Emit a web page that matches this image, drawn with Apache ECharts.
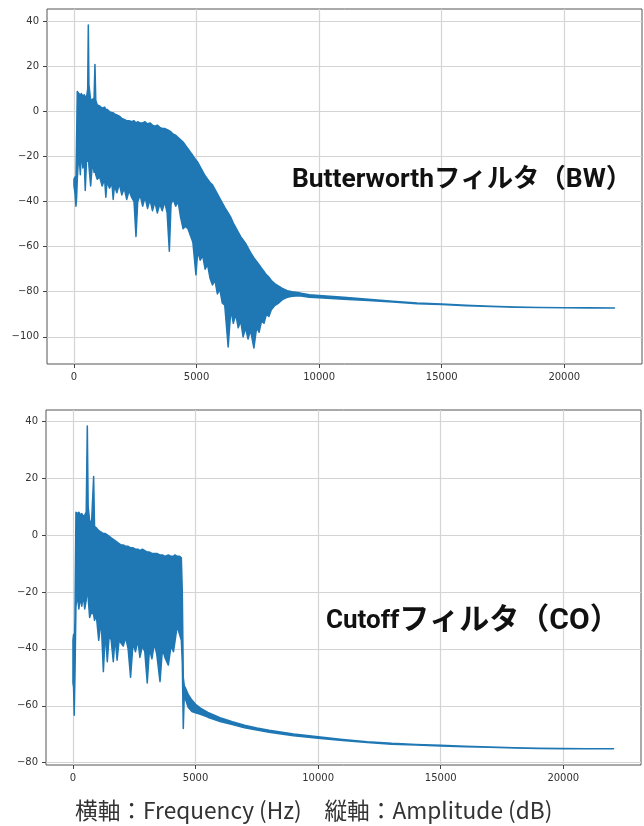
<!DOCTYPE html>
<html>
<head>
<meta charset="utf-8">
<script src="https://cdn.jsdelivr.net/npm/echarts@6/dist/echarts.min.js"></script>
<style>
  html, body { margin: 0; padding: 0; background: #fff; }
  #chart { width: 644px; height: 826px; }
</style>
</head>
<body>
<div id="chart"></div>
<script>
// 目盛り
var xTicks = [0, 5000, 10000, 15000, 20000];
var yTicksBW = [-100, -80, -60, -40, -20, 0, 20, 40];
var yTicksCO = [-80, -60, -40, -20, 0, 20, 40];

// Butterworth: 周波数と上側/下側の包絡 (dB)
var freqBW = [0, 40, 80, 110, 135, 200, 260, 300, 360, 420, 460, 520, 560, 585, 610, 680, 760, 820, 856, 890,
  950, 1050, 1150, 1250, 1300, 1350, 1450, 1550, 1600, 1650, 1750, 1850, 1950, 2050, 2150, 2250, 2350, 2450, 2530, 2600,
  2700, 2800, 2900, 3000, 3100, 3200, 3300, 3400, 3500, 3600, 3700, 3800, 3890, 3960, 4050, 4150, 4250, 4350, 4450, 4550,
  4650, 4750, 4850, 4975, 5050, 5150, 5250, 5350, 5450, 5550, 5650, 5750, 5850, 5950, 6050, 6150, 6290, 6400, 6500, 6600,
  6700, 6800, 6900, 7000, 7100, 7200, 7340, 7450, 7550, 7650, 7750, 7850, 7950, 8050, 8200, 8350, 8500, 8700, 8900, 9200,
  9600, 10000, 11000, 12000, 13000, 14000, 15000, 16000, 17000, 18000, 19000, 20000, 21000, 22050];
var upperBW = [-30, -29, -31, -10, 9, 8, 7.5, 8, 7, 7.5, 6.5, 7, 10, 38.5, 12, 5, 5.5, 6, 21, 5,
  3, 2.5, 1.5, 2, 1, 1, 0, -0.5, -0.5, -1, -1.5, -2, -3, -3.5, -4, -4, -4.5, -4, -5, -4.5,
  -5, -5, -4.5, -5.5, -5, -6, -6.5, -6, -7, -7.5, -7.5, -8, -8.5, -9, -10, -10.5, -11.5, -12.5, -13.5, -15,
  -16.5, -18, -19.5, -21.5, -22.5, -24.5, -26.5, -28.5, -30, -31.5, -32.5, -34.5, -36.5, -38.5, -40.5, -42.5, -45, -47, -49.5, -51.5,
  -53.5, -55.5, -57, -58.5, -60.5, -62.5, -65, -66.5, -68, -69.5, -71, -72.5, -73.5, -75, -76.5, -77.5, -78.5, -79.5, -80, -80.5,
  -81.3, -81.7, -82.5, -83.3, -84.2, -85, -85.5, -86, -86.5, -86.8, -87, -87.1, -87.1, -87.2];
var lowerBW = [-33, -36, -42, -38, -30, -18, -28, -17, -25, -22, -35, -20, -22, -18, -24, -33, -22, -27, -25, -28,
  -30, -29, -33, -30, -38, -31, -34, -32, -39, -33, -36, -32, -37, -34, -39, -35, -38, -40, -55.5, -40,
  -37, -42, -38, -43, -39, -44, -40, -45, -41, -44, -40, -45, -62, -41, -39, -42, -40, -47, -52, -51,
  -52, -55, -58, -72.5, -62, -66, -64, -70, -68, -74, -77, -75, -81, -79, -85, -86, -104.5, -88, -94, -90,
  -96, -93, -100, -96, -101, -97, -105, -96, -98, -93, -94, -90, -91, -88, -86, -85, -83.5, -82.5, -82, -81.8,
  -82.4, -82.7, -83.3, -83.9, -84.6, -85.3, -85.7, -86.2, -86.6, -86.9, -87, -87.1, -87.2, -87.2];

// Cutoff: 周波数と上側/下側の包絡 (dB)
var freqCO = [0, 25, 50, 80, 122, 180, 240, 300, 360, 420, 480, 540, 585, 620, 680, 760, 843, 880, 950, 1050,
  1150, 1240, 1320, 1400, 1480, 1560, 1645, 1720, 1800, 1880, 1960, 2050, 2150, 2250, 2350, 2450, 2550, 2650, 2730, 2830,
  2930, 3030, 3120, 3220, 3320, 3420, 3550, 3650, 3750, 3890, 4000, 4100, 4160, 4250, 4350, 4420, 4460, 4500, 4540, 4600,
  4700, 4850, 5000, 5200, 5500, 6000, 6500, 7000, 7500, 8000, 9000, 10000, 11000, 12000, 13000, 14000, 15000, 16000, 17000, 18000,
  19000, 20000, 21000, 22050];
var upperCO = [-37, -35, -40, -30, 8, 7.5, 8, 7, 7.5, 6.5, 7, 8, 38.3, 10, 5, 4.5, 20.5, 3, 2.5, 1.5,
  1, 0.5, 0.5, 0, -0.5, -1, -1.5, -2, -2.5, -3, -3.5, -3.5, -4, -4, -4.5, -4.5, -5, -5, -5.5, -5,
  -5.5, -6, -6, -6.5, -6.5, -6.5, -7, -7, -7.5, -7, -7.5, -7.5, -7, -7.5, -7.5, -8, -20, -50, -53, -54,
  -56, -58, -59.5, -60.8, -62.3, -64.2, -65.6, -66.8, -67.8, -68.6, -69.9, -70.9, -71.8, -72.6, -73.2, -73.6, -73.9, -74.2, -74.5, -74.7,
  -74.9, -75, -75.05, -75.1];
var lowerCO = [-52, -53.5, -63.3, -50, -25, -21, -26, -22, -25, -21, -26, -23, -18, -22, -29, -27, -28, -30, -28, -37,
  -30, -48, -34, -44.5, -35, -37, -44.5, -36, -44, -37, -38, -39, -36, -40, -50, -38, -41, -37, -43, -39,
  -41, -52, -40, -43.5, -38, -42, -51.5, -40, -43, -45.7, -39, -41, -37.5, -32, -35, -37, -45, -68, -56, -58,
  -60.5, -62, -62.5, -63, -64, -65.5, -66.6, -67.7, -68.5, -69.3, -70.5, -71.4, -72.2, -72.9, -73.5, -73.8, -74.1, -74.4, -74.6, -74.8,
  -75, -75.05, -75.1, -75.1];

var blue = '#1f77b4';
var tickColor = '#444';
var gridColor = '#d4d4d4';

function minusFmt(v) {
  return v < 0 ? '\u2212' + Math.abs(v) : String(v);
}

function xAxisOf(gridIndex) {
  return {
    type: 'value', gridIndex: gridIndex, min: -1100, max: 23170,
    axisLine: { show: false, onZero: false },
    axisTick: { show: true, length: 4, customValues: xTicks, lineStyle: { color: tickColor } },
    axisLabel: {
      customValues: xTicks, margin: 8, fontFamily: 'DejaVu Sans', fontSize: 10, color: '#333',
      formatter: function (v) { return String(v); }
    },
    splitLine: { show: true, lineStyle: { color: gridColor, width: 1.2 } }
  };
}

function yAxisOf(gridIndex, min, max, ticks) {
  return {
    type: 'value', gridIndex: gridIndex, min: min, max: max,
    axisLine: { show: false, onZero: false },
    axisTick: { show: true, length: 4, customValues: ticks, lineStyle: { color: tickColor } },
    axisLabel: { customValues: ticks, margin: 8, fontFamily: 'DejaVu Sans', fontSize: 10, color: '#333', formatter: minusFmt },
    splitLine: { show: true, lineStyle: { color: gridColor, width: 1.2 } }
  };
}

// 上側包絡と下側包絡の間を塗りつぶした帯 (密なスペクトルの見た目)
function bandSeries(idx, freq, upper, lower) {
  return {
    type: 'custom', xAxisIndex: idx, yAxisIndex: idx, clip: true, silent: true,
    data: [[freq[0], upper[0]]],
    renderItem: function (params, api) {
      var pts = [];
      for (var i = 0; i < freq.length; i++) pts.push(api.coord([freq[i], upper[i]]));
      for (var j = freq.length - 1; j >= 0; j--) pts.push(api.coord([freq[j], lower[j]]));
      return {
        type: 'polygon',
        shape: { points: pts },
        style: { fill: blue, stroke: blue, lineWidth: 1.5, lineJoin: 'round' }
      };
    }
  };
}

var chart = echarts.init(document.getElementById('chart'), null, { renderer: 'canvas' });
var labelFont = 'Roboto, "Noto Sans CJK JP"';
var option = {
  animation: false,
  backgroundColor: '#fff',
  title: [
    {
      text: 'Butterworthフィルタ（BW）', left: 292, top: 167, padding: 0,
      textStyle: { fontFamily: labelFont, fontWeight: 'bold', fontSize: 26.4, color: '#111' }
    },
    {
      text: '{a|Cutof\u200Cf}{b|フィルタ（CO）}', left: 326, top: 606, padding: 0,
      textStyle: {
        rich: {
          a: { fontFamily: labelFont, fontWeight: 'bold', fontSize: 26, color: '#111' },
          b: { fontFamily: labelFont, fontWeight: 'bold', fontSize: 30, color: '#111' }
        }
      }
    },
    {
      text: '横軸：Frequency (Hz)　縦軸：Amplitude (dB)', left: 75, top: 799, padding: 0,
      textStyle: { fontFamily: '"Noto Sans CJK JP"', fontWeight: 'normal', fontSize: 22.7, color: '#333' }
    }
  ],
  grid: [
    { left: 47, top: 9, width: 595, height: 355, show: true, borderColor: '#555', borderWidth: 1 },
    { left: 46, top: 410, width: 595, height: 355, show: true, borderColor: '#555', borderWidth: 1 }
  ],
  xAxis: [xAxisOf(0), xAxisOf(1)],
  yAxis: [yAxisOf(0, -112.1, 45.6, yTicksBW), yAxisOf(1, -80.8, 43.9, yTicksCO)],
  series: [bandSeries(0, freqBW, upperBW, lowerBW), bandSeries(1, freqCO, upperCO, lowerCO)]
};
chart.setOption(option);
</script>
</body>
</html>
